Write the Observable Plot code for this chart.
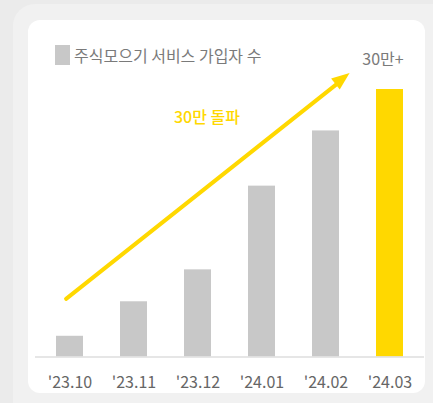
<!DOCTYPE html>
<html><head><meta charset="utf-8">
<script src="https://cdn.jsdelivr.net/npm/d3@7"></script>
<script src="https://cdn.jsdelivr.net/npm/@observablehq/plot@0.6"></script>
<style>
html,body{margin:0;padding:0;}
body{width:433px;height:403px;background:#ebebeb;position:relative;overflow:hidden;font-family:'Noto Sans CJK KR','Noto Sans',sans-serif;}
#panel{position:absolute;left:13px;top:4px;width:460px;height:440px;background:#f1f1f1;border-radius:22px;}
#card{position:absolute;left:28px;top:20px;width:397px;height:373px;background:#fff;border-radius:12px;}
#legend{position:absolute;left:55px;top:45px;height:20px;display:flex;align-items:center;font-size:16px;color:#7a7a7a;white-space:nowrap;}
#legend .sw{width:15px;height:20px;background:#c8c8c8;margin-right:4px;}
#chart{position:absolute;left:0;top:0;}
</style>
</head><body>
<div id="panel"></div>
<div id="card"></div>
<div id="chart"></div>
<div id="legend"><span class="sw"></span><span>주식모으기 서비스 가입자 수</span></div>
<script>
const months = ["'23.10", "'23.11", "'23.12", "'24.01", "'24.02", "'24.03"];
const subscribers = [24000, 64000, 101000, 198000, 262000, 310000];
const highlight = "'24.03";
const topLabel = "30만+";
const arrowLabel = "30만 돌파";
const arrowLabelAt = ["'23.12", 271000];
const arrowFrom = ["'23.10", 71000];
const arrowTo = ["'24.03", 365300];
const arrowTip = ["'24.03", 329100];

const gray = "#c8c8c8", yellow = "#ffd800";
const data = months.map((m, i) => ({month: m, value: subscribers[i]}));

// narrow filled arrowhead, tip at origin, pointing along the arrow direction
const ang = 52 * Math.PI / 180;
const ux = Math.sin(ang), uy = -Math.cos(ang), nx = Math.cos(ang), ny = Math.sin(ang);
const headSymbol = {
  draw(ctx) {
    const L = 18, W = 7;
    ctx.moveTo(0, 0);
    ctx.lineTo(-L * ux + W * nx, -L * uy + W * ny);
    ctx.lineTo(-L * ux - W * nx, -L * uy - W * ny);
    ctx.closePath();
  }
};

const chart = Plot.plot({
  width: 433,
  height: 403,
  marginLeft: 35,
  marginRight: 9,
  marginTop: 20,
  marginBottom: 46.5,
  style: {background: "transparent", fontFamily: "'Noto Sans CJK KR','Noto Sans',sans-serif", fontSize: "16px", color: "#666", overflow: "visible"},
  x: {domain: months, range: [41.04, 418], paddingInner: 0.583, paddingOuter: 0.2, tickSize: 0, tickPadding: 20, label: null},
  y: {domain: [0, 310000], range: [356.5, 89], axis: null},
  marks: [
    Plot.barY(data, {filter: d => d.month !== highlight, x: "month", y: "value", fill: gray}),
    Plot.barY(data, {filter: d => d.month === highlight, x: "month", y: "value", fill: yellow}),
    Plot.ruleY([0], {stroke: "#dedede", strokeWidth: 1.5}),
    Plot.text(data.filter(d => d.month === highlight), {x: "month", y: "value", text: () => topLabel, dy: -25, dx: -7, lineAnchor: "bottom", fill: "#7a7a7a", fontSize: 16}),
    Plot.arrow([{}], {x1: () => arrowFrom[0], y1: () => arrowFrom[1], x2: () => arrowTo[0], y2: () => arrowTo[1], stroke: yellow, strokeWidth: 4, headLength: 0, insetStart: -5, insetEnd: 60}),
    Plot.dot([{}], {x: () => arrowTip[0], y: () => arrowTip[1], dx: -40.4, symbol: headSymbol, fill: yellow, stroke: "none", r: 5}),
    Plot.text([{}], {x: () => arrowLabelAt[0], y: () => arrowLabelAt[1], text: () => arrowLabel, dx: 9, lineAnchor: "bottom", fill: yellow, fontSize: 16, fontWeight: 500})
  ]
});
document.getElementById("chart").appendChild(chart);
</script>
</body></html>
